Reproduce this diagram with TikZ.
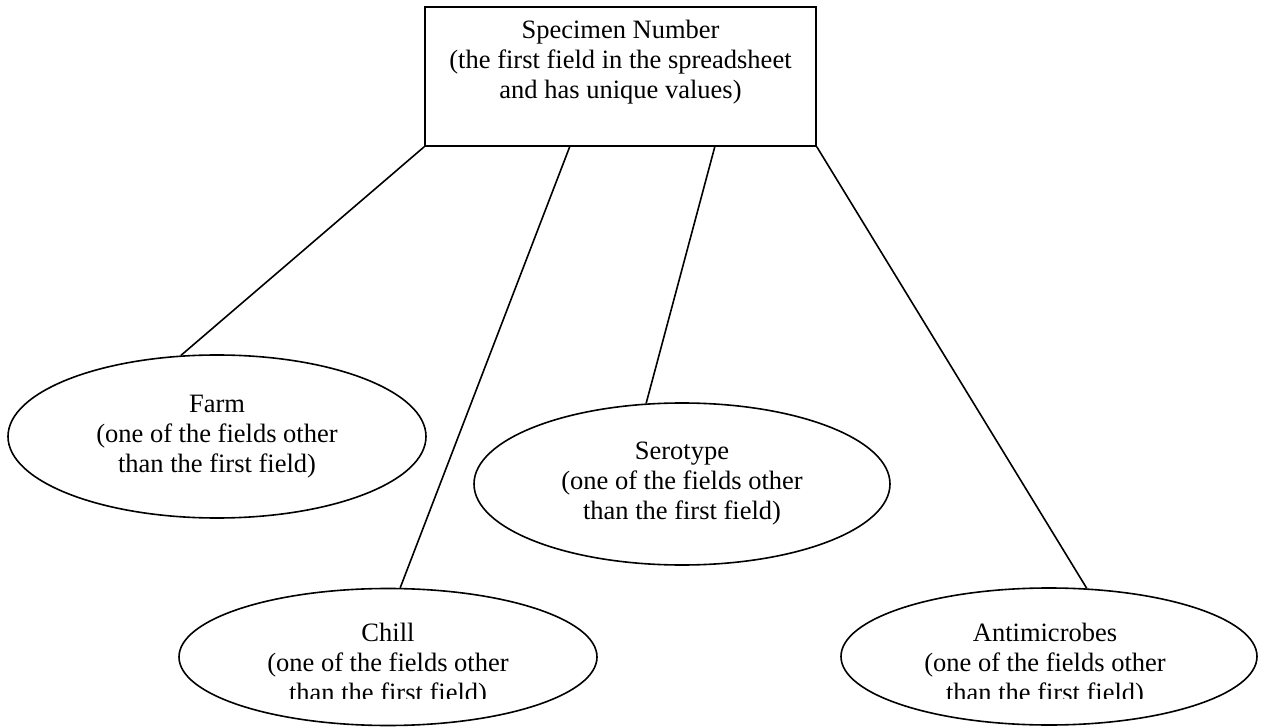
\documentclass[tikz,border=0pt]{standalone}
\usepackage{fontspec}
\setmainfont{Liberation Serif}
\usetikzlibrary{shapes.geometric}
\begin{document}
\begin{tikzpicture}[x=1pt,y=-1pt,
  every node/.style={font=\fontsize{26.5}{30}\selectfont},
  conn/.style={line width=1.6pt},
  oval/.style={ellipse,draw,line width=1.6pt,inner sep=0pt},
  lbl/.style={align=center,inner sep=0pt},
  boxstyle/.style={rectangle,draw,line width=1.6pt,inner sep=0pt}]
\useasboundingbox (0,0) rectangle (1262,727);
% top box
\node[boxstyle,minimum width=391pt,minimum height=139pt] (box) at (620.5,76.5) {};
\node[lbl] (boxtxt) at (620.5,62) {Specimen Number\\(the first field in the spreadsheet\\and has unique values)};
% ellipses
\node[oval,minimum width=418pt,minimum height=163pt] (farm) at (217,436.5) {};
\node[lbl] (farmtxt) at (217,437) {Farm\\(one of the fields other\\than the first field)};
\node[oval,minimum width=416pt,minimum height=162pt] (sero) at (682,484) {};
\node[lbl] (serotxt) at (682,484) {Serotype\\(one of the fields other\\than the first field)};
\node[oval,minimum width=418pt,minimum height=137pt] (chill) at (388,657) {};
\node[oval,minimum width=416pt,minimum height=137pt] (anti) at (1049,656.5) {};
\begin{scope}
\clip (0,0) rectangle (1262,698);
\node[lbl] (chilltxt) at (388,665) {Chill\\(one of the fields other\\than the first field)};
\node[lbl] (antitxt) at (1045,665) {Antimicrobes\\(one of the fields other\\than the first field)};
\end{scope}
% connectors
\coordinate (b2) at (570,146);
\coordinate (b3) at (715,146);
\draw[conn] (box.south west) -- (farm.114.4);
\draw[conn] (b2) -- (chill.80.1);
\draw[conn] (b3) -- (sero.114.5);
\draw[conn] (box.south east) -- (anti.61);
\end{tikzpicture}
\end{document}
